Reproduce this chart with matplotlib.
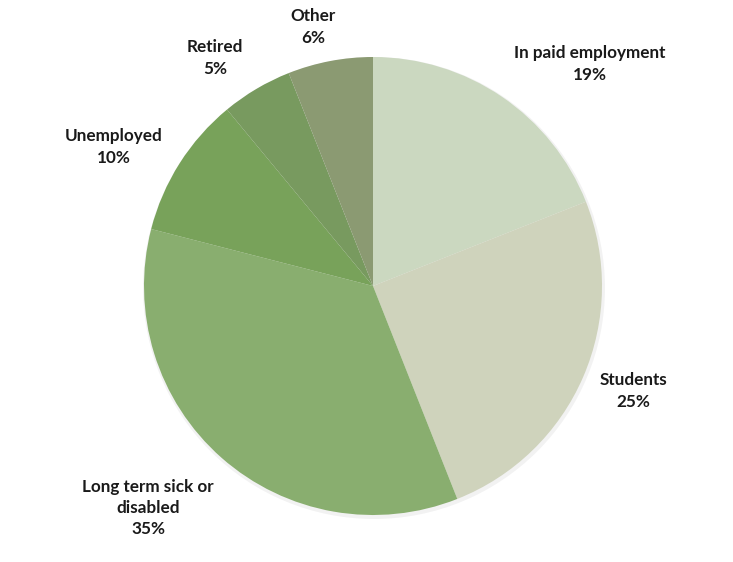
import matplotlib.pyplot as plt

# Employment status shares (percent), clockwise from 12 o'clock
categories = ["In paid employment", "Students", "Long term sick or\ndisabled",
              "Unemployed", "Retired", "Other"]
shares = [19, 25, 35, 10, 5, 6]
colors = ["#cbd8c0", "#cfd3bc", "#89ae6f", "#78a25a", "#789a5f", "#8b9a72"]

# label centres in pixel space (Excel "best fit" placement)
label_xy = [(590, 64), (633, 391), (148, 508), (114, 147), (215, 58), (313, 27)]

W, H = 733, 562
fig = plt.figure(figsize=(W / 100, H / 100), dpi=100)
ax = fig.add_axes([0, 0, 1, 1])

cx, cy, r = 373, 286, 229

# faint shadow ring
shadow = plt.Circle((cx + 1, cy + 2), r + 2, color="#000000", alpha=0.05, lw=0)
ax.add_patch(shadow)

# y axis is inverted, so counterclock=True draws clockwise on screen
ax.pie(shares, colors=colors, startangle=-90, counterclock=True,
       center=(cx, cy), radius=r, frame=True,
       wedgeprops=dict(linewidth=0))
ax.set_xlim(0, W)
ax.set_ylim(H, 0)
ax.set_aspect("equal")
ax.axis("off")

for name, val, (x, y) in zip(categories, shares, label_xy):
    ax.text(x, y, f"{name}\n{val}%", ha="center", va="center",
            fontsize=12.3, fontweight="bold", family="Lato",
            color="#1a1a1a", linespacing=1.4)

fig.savefig("out.png", dpi=100)
